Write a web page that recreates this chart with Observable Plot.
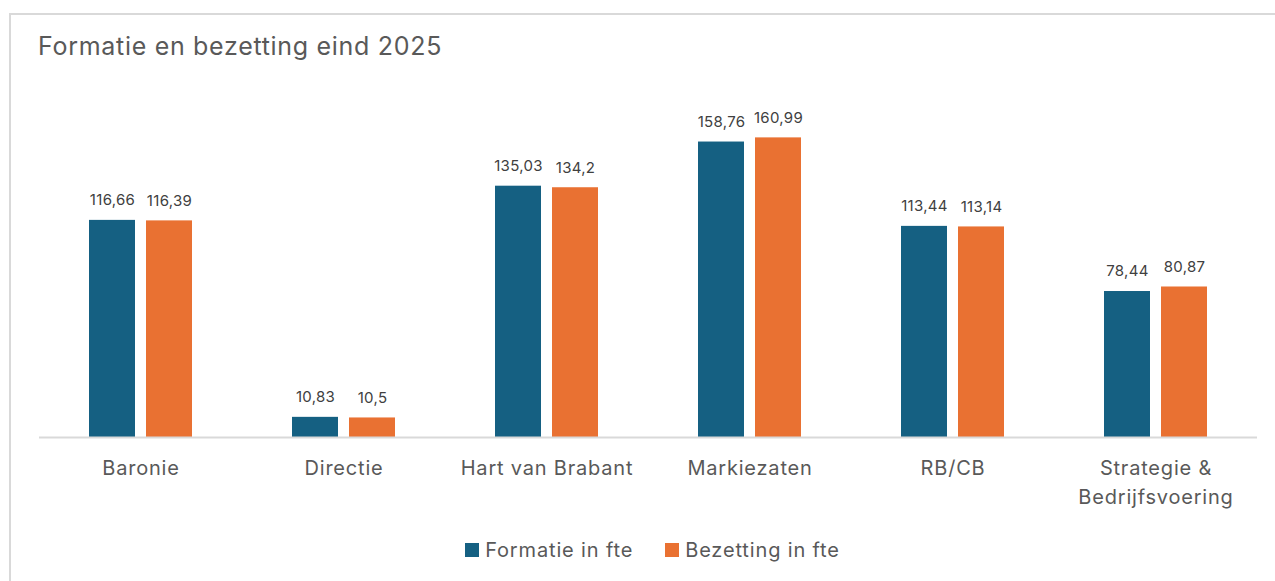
<!DOCTYPE html>
<html>
<head>
<meta charset="utf-8">
<script src="https://cdn.jsdelivr.net/npm/d3@7"></script>
<script src="https://cdn.jsdelivr.net/npm/@observablehq/plot@0.6"></script>
<style>
  html, body { margin:0; padding:0; background:#fff; overflow:hidden; width:1275px; height:581px; }
  body { font-family: Inter, "Noto Sans", sans-serif; color:#595959; position:relative; }
  #frame { position:absolute; left:9px; top:13px; width:1300px; height:620px; border:2px solid #d9d9d9; box-sizing:border-box; }
  #title { position:absolute; left:38px; top:31px; font-size:25px; letter-spacing:0.7px; color:#595959; white-space:nowrap; }
  #chart { position:absolute; left:0; top:0; }
  #chart g[font-size="20"] { letter-spacing:0.8px; }
  #chart g[font-size="15"] { letter-spacing:0.3px; }
  #legend { position:absolute; left:15px; width:1275px; top:538px; display:flex; justify-content:center; gap:32px; font-size:20px; letter-spacing:0.85px; color:#595959; }
  .item { display:flex; align-items:center; gap:6px; }
  .sw { width:14px; height:14px; display:inline-block; }
</style>
</head>
<body>
<div id="frame"></div>
<div id="title">Formatie en bezetting eind 2025</div>
<div id="chart"></div>
<div id="legend"></div>
<script>
const categories = ["Baronie", "Directie", "Hart van Brabant", "Markiezaten", "RB/CB", "Strategie & Bedrijfsvoering"];
const categoryLabels = ["Baronie", "Directie", "Hart van Brabant", "Markiezaten", "RB/CB", "Strategie &\nBedrijfsvoering"];
const formatie = [116.66, 10.83, 135.03, 158.76, 113.44, 78.44];
const bezetting = [116.39, 10.5, 134.2, 160.99, 113.14, 80.87];
const seriesNames = ["Formatie in fte", "Bezetting in fte"];
const seriesColors = ["#156082", "#E97132"];

const data = categories.flatMap((c, i) => [
  {cat: c, series: seriesNames[0], value: formatie[i]},
  {cat: c, series: seriesNames[1], value: bezetting[i]}
]);
const fmt = v => String(v).replace(".", ",");
const labelOf = c => categoryLabels[categories.indexOf(c)];

const chart = Plot.plot({
  width: 1275,
  height: 520,
  marginLeft: 38,
  marginRight: 18,
  marginTop: 102,
  marginBottom: 83,
  style: {fontFamily: 'Inter, "Noto Sans", sans-serif', background: "transparent", overflow: "visible"},
  fx: {domain: categories, padding: 0, axis: null},
  x: {domain: seriesNames, paddingInner: 0.2, paddingOuter: 0.86, axis: null},
  y: {domain: [0, 180], axis: null},
  color: {domain: seriesNames, range: seriesColors},
  marks: [
    Plot.barY(data, {fx: "cat", x: "series", y: "value", fill: "series"}),
    Plot.ruleY([0], {stroke: "#d9d9d9", strokeWidth: 2}),
    Plot.text(data, {fx: "cat", x: "series", y: "value", text: d => fmt(d.value), dy: -20, fontSize: 15, fill: "#404040"}),
    Plot.text(categories, {fx: d => d, text: d => labelOf(d), frameAnchor: "bottom", lineAnchor: "top", dy: 17, fontSize: 20, fill: "#595959", lineHeight: 1.45})
  ]
});
document.getElementById("chart").appendChild(chart);

const legend = document.getElementById("legend");
seriesNames.forEach((s, i) => {
  const it = document.createElement("div");
  it.className = "item";
  const sw = document.createElement("span");
  sw.className = "sw";
  sw.style.background = seriesColors[i];
  const t = document.createElement("span");
  t.textContent = s;
  it.appendChild(sw);
  it.appendChild(t);
  legend.appendChild(it);
});
</script>
</body>
</html>
